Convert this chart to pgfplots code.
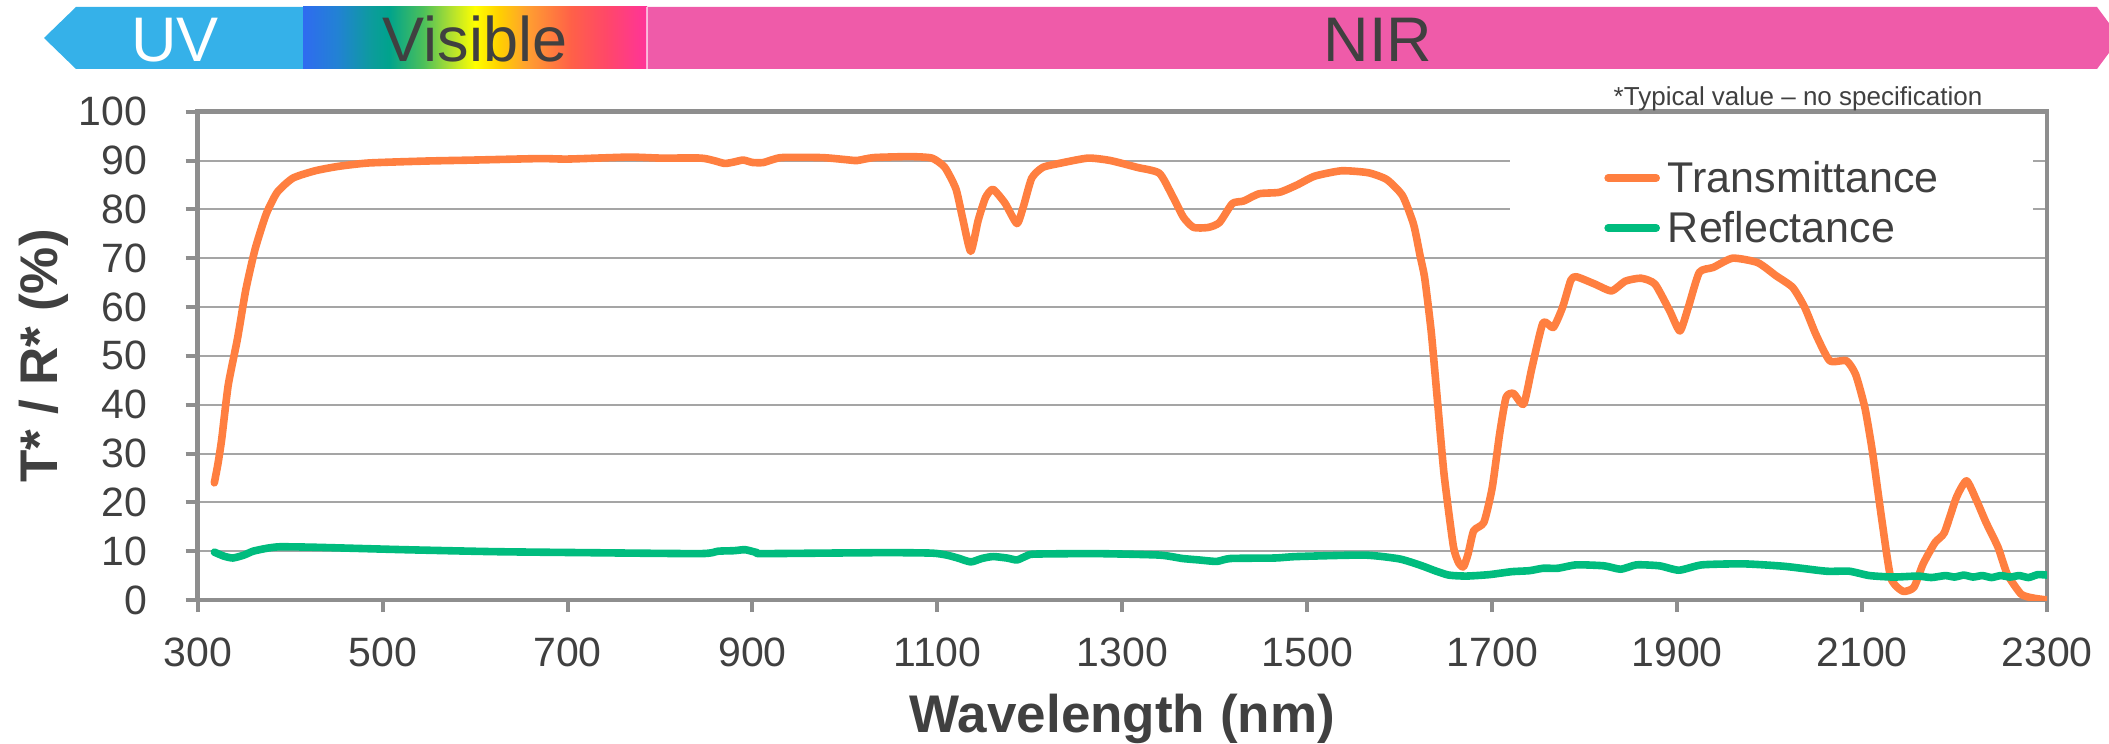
\documentclass[border=0pt]{standalone}
\usepackage{pgfplots}
\pgfplotsset{compat=1.18}
\usepackage{fontspec}
\setmainfont{Liberation Sans}

\definecolor{uvblue}{HTML}{35B1E9}
\definecolor{nirpink}{HTML}{EF5BA9}
\definecolor{textgray}{HTML}{404040}
\definecolor{axisgray}{HTML}{8E8E8E}
\definecolor{gridgray}{HTML}{A5A5A5}
\definecolor{transorange}{HTML}{FF7F40}
\definecolor{reflgreen}{HTML}{00BC7E}
% colours of the visible band, left to right
\definecolor{vis0}{HTML}{2F6BF0}
\definecolor{vis1}{HTML}{2282D4}
\definecolor{vis2}{HTML}{0C9C9C}
\definecolor{vis3}{HTML}{00A38C}
\definecolor{vis4}{HTML}{4CC05A}
\definecolor{vis5}{HTML}{B0E030}
\definecolor{vis6}{HTML}{FFFF00}
\definecolor{vis7}{HTML}{FFD000}
\definecolor{vis8}{HTML}{FFA030}
\definecolor{vis9}{HTML}{FF6048}
\definecolor{vis10}{HTML}{FF4868}
\definecolor{vis11}{HTML}{FF3399}
\pgfdeclarehorizontalshading{visible}{100bp}{color(0bp)=(vis0); color(25bp)=(vis0);
  color(30bp)=(vis1); color(35bp)=(vis2); color(37.5bp)=(vis3); color(42.5bp)=(vis4);
  color(46.5bp)=(vis5); color(50bp)=(vis6); color(53.5bp)=(vis7); color(57.5bp)=(vis8);
  color(64bp)=(vis9); color(69bp)=(vis10); color(75bp)=(vis11); color(100bp)=(vis11)}

\begin{document}
\begin{tikzpicture}
\useasboundingbox (0,0) rectangle (1054.5pt,372pt);
\begin{axis}[
  at={(98.85pt,72pt)}, anchor=south west,
  scale only axis, width=924.65pt, height=244.15pt,
  xmin=300, xmax=2300, ymin=0, ymax=100,
  xtick={300,500,...,2300}, ytick={0,10,...,100},
  xtick pos=left, ytick pos=left,
  tick align=outside, major tick length=6pt,
  tick style={draw=axisgray, line width=2pt},
  axis line style={draw=axisgray, line width=2.25pt},
  ymajorgrids, grid style={draw=gridgray, line width=1pt},
  /pgf/number format/assume math mode=true,
  /pgf/number format/1000 sep={},
  ticklabel style={font=\fontsize{20.5}{24}\selectfont, text=textgray},
  xticklabel style={anchor=base, yshift=-27pt},
  yticklabel style={anchor=east, inner sep=0pt, xshift=-19pt},
  xlabel={Wavelength (nm)},
  xlabel style={at={(axis description cs:0.5,0)}, anchor=base, yshift=-66pt,
    font=\bfseries\fontsize{26.5}{30}\selectfont, text=textgray},
  ylabel={T* / R* (\%)},
  ylabel style={at={(axis description cs:-0.0831,0.5)}, anchor=center,
    font=\bfseries\fontsize{26.5}{30}\selectfont, text=textgray},
  legend cell align=left,
  legend style={at={(0.7096,0.9195)}, anchor=north west, draw=none, fill=white,
    inner xsep=47pt, inner ysep=5pt, row sep=8.5pt, column sep=4pt,
    font=\fontsize{21.5}{25}\selectfont, text=textgray,
    nodes={inner sep=0pt, text height=15.5pt, text depth=1pt}},
  legend image code/.code={\draw[#1, line width=3.8pt, line cap=round] (0pt,0pt) -- (24pt,0pt);},
]
\addplot[transorange, line width=3.8pt, line join=round, line cap=round, smooth, tension=0.35] coordinates {
(318,24) (322,28) (326,33) (333,44) (343,53.5) (352,63.5) (362,71.8) (374,79)
(386,83.5) (403,86.4) (427,87.9) (452,88.8) (485,89.5) (548,89.9) (600,90.1)
(670,90.4) (700,90.3) (766,90.7) (800,90.5) (844,90.5) (858,90) (870,89.4)
(880,89.7) (890,90.1) (900,89.6) (912,89.6) (931,90.6) (975,90.6) (1000,90.2)
(1013,90) (1031,90.6) (1070,90.8) (1094,90.5) (1108,88.6) (1120,84.2) (1127,78.4)
(1136,71.4) (1144,77.7) (1152,82.4) (1160,84.1) (1173,81.3) (1186,77.1) (1193,80.6)
(1202,86.4) (1214,88.6) (1234,89.5) (1263,90.5) (1287,90) (1316,88.6) (1340,87.4)
(1354,82.8) (1366,78.4) (1377,76.3) (1393,76.3) (1405,77.3) (1419,81.2) (1431,81.7)
(1448,83.2) (1470,83.5) (1489,85) (1508,86.8) (1537,87.9) (1566,87.5) (1586,86.1)
(1603,82.8) (1615,76.9) (1622,70.5) (1627,65.9) (1634,55) (1641,40.3) (1648,25.6)
(1658,11) (1664,7.5) (1669,6.8) (1674,9.5) (1680,14.2) (1691,15.9) (1700,23)
(1708,34) (1715,41.5) (1723,42.3) (1734,40.1) (1743,47.6) (1755,56.8) (1766,55.8)
(1776,59.9) (1785,65.5) (1791,66.2) (1811,64.7) (1829,63.3) (1844,65.3) (1861,65.9)
(1876,64.7) (1892,59.2) (1903,55.1) (1912,59.9) (1924,67.1) (1939,68.1) (1960,70)
(1987,69.1) (2007,66.4) (2025,64) (2038,59.9) (2050,54.4) (2065,49) (2083,49)
(2093,46.2) (2103,39.4) (2111,30.6) (2121,16.9) (2131,4.6) (2144,1.8) (2156,2.6)
(2166,7.4) (2179,11.8) (2189,13.8) (2202,21) (2213,24.4) (2224,20.3) (2234,15.9)
(2247,10.8) (2257,5.3) (2272,1.2) (2285,0.4) (2300,0)
};
\addlegendentry{Transmittance}
\addplot[reflgreen, line width=3.8pt, line join=round, line cap=round, smooth, tension=0.35] coordinates {
(318,9.8) (328,9.0) (338,8.6) (350,9.2) (360,10.0) (375,10.6) (389,10.9) (427,10.8)
(524,10.3) (621,9.9) (718,9.7) (844,9.5) (863,10.0) (880,10.1) (892,10.3) (905,9.7)
(912,9.5) (1041,9.7) (1094,9.6) (1110,9.2) (1122,8.6) (1136,7.8) (1148,8.5)
(1160,8.9) (1175,8.6) (1186,8.2) (1196,9.0) (1205,9.4) (1272,9.5) (1340,9.2)
(1365,8.5) (1383,8.2) (1402,7.9) (1417,8.5) (1465,8.6) (1489,8.9) (1562,9.2)
(1600,8.4) (1624,7.0) (1638,6.0) (1653,5.1) (1672,4.9) (1697,5.2) (1721,5.8)
(1740,6.0) (1755,6.5) (1771,6.5) (1791,7.2) (1821,7.0) (1839,6.3) (1856,7.2)
(1881,7.0) (1902,6.1) (1927,7.2) (1972,7.4) (2016,6.9) (2061,5.9) (2086,5.9)
(2108,5.0) (2134,4.7) (2160,4.9) (2175,4.6) (2190,5.0) (2200,4.7) (2210,5.1)
(2220,4.7) (2230,5.0) (2240,4.6) (2250,5.0) (2260,4.7) (2270,5.0) (2280,4.6)
(2290,5.2) (2300,5.1)
};
\addlegendentry{Reflectance}
\end{axis}
% spectral band banner and note, in image pixels
\begin{scope}[x=0.5pt, y=-0.5pt, yshift=372pt]
  \fill[uvblue] (44,38) -- (76,7) -- (303,7) -- (303,69) -- (76,69) -- cycle;
  \shade[shading=visible] (303,7) rectangle (647,69);
  \fill[nirpink] (647,7) -- (2097,7) -- (2120,38) -- (2097,69) -- (647,69) -- cycle;
  \draw[white, opacity=0.6, line width=0.7pt] (647,7) -- (647,69);
  \node[anchor=base, white, font=\fontsize{31.5}{36}\selectfont] at (175,62) {UV};
  \node[anchor=base, text=textgray, font=\fontsize{31.5}{36}\selectfont] at (475,62) {Visible};
  \node[anchor=base, text=textgray, font=\fontsize{31.5}{36}\selectfont] at (1378,62) {NIR};
  \node[anchor=base, text=textgray, font=\fontsize{13}{15}\selectfont] at (1798,106) {*Typical value – no specification};
\end{scope}
\end{tikzpicture}
\end{document}
